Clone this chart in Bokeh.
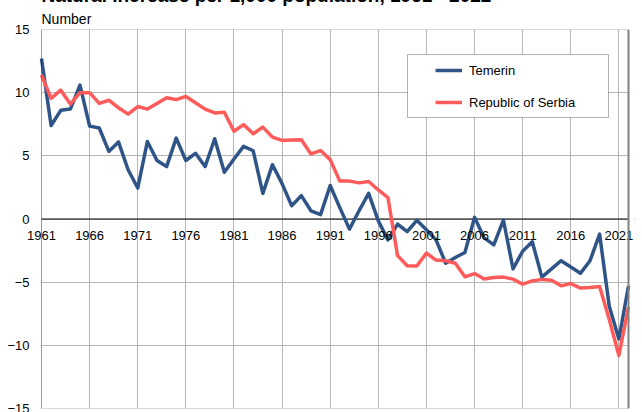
from bokeh.plotting import figure
from bokeh.models import (ColumnDataSource, Span, FixedTicker, Legend, LegendItem,
                          BoxAnnotation, Range1d, Title)
from bokeh.embed import file_html
from bokeh.resources import INLINE

years = list(range(1961, 2023))
temerin = [12.7, 7.4, 8.6, 8.7, 10.6, 7.35, 7.2, 5.35, 6.1, 3.9,
           2.45, 6.13, 4.63, 4.15, 6.4, 4.63, 5.2, 4.15, 6.35, 3.7,
           4.75, 5.75, 5.4, 2.03, 4.3, 2.8, 1.05, 1.85, 0.65, 0.35,
           2.65, 0.9, -0.8, 0.65, 2.03, -0.15, -1.65, -0.4, -1.0, -0.1,
           -0.85, -1.65, -3.5, -3.05, -2.65, 0.13, -1.5, -2.05, -0.08, -3.95,
           -2.55, -1.8, -4.6, -3.95, -3.3, -3.8, -4.3, -3.3, -1.2, -6.9,
           -9.5, -5.3]
serbia = [11.4, 9.55, 10.2, 9.1, 10.0, 10.0, 9.15, 9.4, 8.8, 8.3,
          8.9, 8.7, 9.15, 9.6, 9.45, 9.7, 9.2, 8.7, 8.4, 8.45,
          6.95, 7.47, 6.75, 7.27, 6.48, 6.22, 6.25, 6.28, 5.15, 5.42,
          4.7, 3.0, 3.0, 2.86, 2.97, 2.3, 1.7, -2.9, -3.7, -3.72,
          -2.7, -3.25, -3.3, -3.5, -4.58, -4.32, -4.75, -4.63, -4.6, -4.76,
          -5.16, -4.9, -4.78, -4.85, -5.29, -5.11, -5.47, -5.43, -5.35, -7.95,
          -10.8, -6.96]
series_names = ["Temerin", "Republic of Serbia"]
x_tick_years = list(range(1961, 2022, 5))
x_tick_labels = [str(y) for y in x_tick_years]
y_ticks = [-15, -10, -5, 0, 5, 10, 15]
title_text = "Natural increase per 1,000 population, 1961 - 2022"
y_label = "Number"

FONT = "Liberation Sans"
BLUE = "#2F5487"
RED = "#FF5B5B"
TOP_CROP = 19          # part of the title sits above the visible window
PLOT_W = 587           # width of the bordered plot area in px
PAD_L, PAD_R = 15, 6   # extra frame room so year labels are not clipped

span_years = years[-1] - years[0]
px_per_year = PLOT_W / span_years

src = ColumnDataSource(data=dict(year=years, temerin=temerin, serbia=serbia))

p = figure(width=642, height=412 + TOP_CROP, output_backend="svg", toolbar_location=None,
           x_range=Range1d(years[0] - PAD_L / px_per_year, years[-1] + PAD_R / px_per_year),
           y_range=Range1d(y_ticks[0], y_ticks[-1]),
           min_border_left=41 - PAD_L, min_border_right=14 - PAD_R,
           min_border_top=10, min_border_bottom=4, title=None)
p.styles = {"margin-top": f"-{TOP_CROP}px"}
p.background_fill_color = "white"
p.border_fill_color = "white"
p.outline_line_alpha = 0

p.add_layout(Title(text=y_label, align="left", offset=PAD_L, standoff=5,
                   text_font=FONT, text_font_size="14px", text_font_style="normal",
                   text_color="black"), "above")
p.add_layout(Title(text=title_text, align="left", offset=PAD_L, standoff=2,
                   text_font=FONT, text_font_size="19px", text_font_style="bold",
                   text_color="black"), "above")

# x axis drawn along the zero line
xax = p.xaxis[0]
xax.fixed_location = 0
xax.ticker = FixedTicker(ticks=x_tick_years)
xax.major_label_overrides = {y: s for y, s in zip(x_tick_years, x_tick_labels)}
xax.axis_line_alpha = 0
xax.major_tick_in = 0
xax.major_tick_out = 0
xax.minor_tick_in = 0
xax.minor_tick_out = 0
xax.major_label_standoff = 12
xax.major_label_text_font = FONT
xax.major_label_text_font_size = "13px"
xax.major_label_text_color = "black"

p.yaxis.ticker = FixedTicker(ticks=y_ticks)
yax = p.yaxis[0]
yax.axis_line_alpha = 0
yax.major_tick_in = 0
yax.major_tick_out = 0
yax.minor_tick_in = 0
yax.minor_tick_out = 0
yax.major_label_standoff = 12 - PAD_L
yax.major_label_text_font = FONT
yax.major_label_text_font_size = "13px"
yax.major_label_text_color = "black"

for g in (p.xgrid, p.ygrid):
    g.grid_line_color = "#b5b5b5"
    g.grid_line_width = 1

p.add_layout(Span(location=0, dimension="width", line_color="black", line_width=1, level="underlay"))
# blank out the padding strips outside the bordered plot area
p.add_layout(BoxAnnotation(right=years[0], fill_color="white", fill_alpha=1, line_alpha=0, level="underlay"))
p.add_layout(BoxAnnotation(left=years[-1], fill_color="white", fill_alpha=1, line_alpha=0, level="underlay"))

r1 = p.line(x="year", y="temerin", source=src, line_color=BLUE, line_width=3.5, line_join="round")
r2 = p.line(x="year", y="serbia", source=src, line_color=RED, line_width=3.5, line_join="round")

# plot area border
p.add_layout(BoxAnnotation(left=years[0], right=years[-1], top=y_ticks[-1], bottom=y_ticks[0],
                           fill_alpha=0, line_color="black", line_width=1))
p.add_layout(Span(location=years[-1], dimension="height", line_color="#808080", line_width=2))

# legend frame
p.add_layout(BoxAnnotation(left=366 + PAD_L, right=567 + PAD_L, top=354, bottom=291,
                           left_units="screen", right_units="screen",
                           top_units="screen", bottom_units="screen",
                           fill_color="white", fill_alpha=1,
                           line_color="black", line_width=1))

legend = Legend(items=[LegendItem(label=series_names[0], renderers=[r1]),
                       LegendItem(label=series_names[1], renderers=[r2])],
                location=(388 + PAD_L, 290), padding=6, spacing=12, margin=0,
                glyph_width=27, glyph_height=20, label_height=20, label_standoff=7,
                border_line_alpha=0, background_fill_alpha=0,
                label_text_font=FONT, label_text_font_size="13px", label_text_color="black")
p.add_layout(legend)

open("out.html", "w").write(file_html(p, INLINE))
